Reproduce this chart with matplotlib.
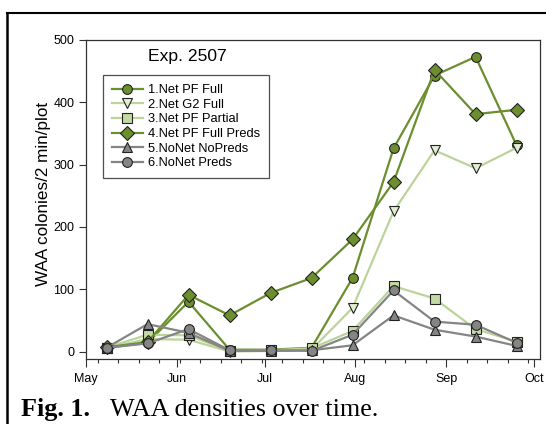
import matplotlib.pyplot as plt
import matplotlib.dates as mdates
from matplotlib.lines import Line2D
import pandas as pd

plt.rcParams['font.family'] = ['Liberation Sans', 'DejaVu Sans']

# sampling dates (two-week intervals)
dates = pd.to_datetime(["2007-05-08", "2007-05-22", "2007-06-05", "2007-06-19",
                        "2007-07-03", "2007-07-17", "2007-07-31", "2007-08-14",
                        "2007-08-28", "2007-09-11", "2007-09-25"])

net_pf_full = [6, 14, 80, 3, 3, 6, 118, 326, 443, 473, 331]
net_g2_full = [5, 20, 19, 0, 1, 3, 70, 225, 323, 294, 327]
net_pf_partial = [6, 27, 26, 1, 2, 5, 33, 105, 85, 36, 16]
net_pf_full_preds = [7, 15, 91, 58, 94, 118, 180, 272, 452, 381, 388]
nonet_nopreds = [6, 44, 30, 1, 1, 2, 10, 58, 35, 24, 9]
nonet_preds = [6, 13, 36, 2, 2, 1, 27, 98, 48, 43, 14]

labels = ["1.Net PF Full", "2.Net G2 Full", "3.Net PF Partial",
          "4.Net PF Full Preds", "5.NoNet NoPreds", "6.NoNet Preds"]

dark_green = '#6b8f2e'
light_green = '#bcd49a'
grey = '#858585'

fig = plt.figure(figsize=(5.46, 4.24), dpi=100)
ax = fig.add_axes([86/546, 1-359/424, 454/546, 319/424])

style = dict(lw=1.6, ms=7, mec='#222222', mew=0.8)
ax.plot(dates, net_pf_full, color=dark_green, marker='o', mfc=dark_green, label=labels[0], **style)
ax.plot(dates, net_g2_full, color=light_green, marker='v', mfc='#e3edd3', label=labels[1], **style)
ax.plot(dates, net_pf_partial, color=light_green, marker='s', mfc='#c4daa5', label=labels[2],
        lw=1.6, ms=6.5, mec='#222222', mew=0.8)
ax.plot(dates, net_pf_full_preds, color=dark_green, marker='D', mfc=dark_green, label=labels[3],
        lw=1.6, ms=6.8, mec='#222222', mew=0.8)
ax.plot(dates, nonet_nopreds, color=grey, marker='^', mfc=grey, label=labels[4], **style)
ax.plot(dates, nonet_preds, color=grey, marker='o', mfc=grey, label=labels[5], **style)

ax.set_xlim(pd.Timestamp("2007-05-01"), pd.Timestamp("2007-10-03"))
ax.set_ylim(-12, 500)
ax.set_yticks([0, 100, 200, 300, 400, 500])

ax.xaxis.set_major_locator(mdates.MonthLocator())
ax.xaxis.set_major_formatter(mdates.DateFormatter('%b'))
ax.xaxis.set_minor_locator(mdates.WeekdayLocator(byweekday=mdates.SA))

ax.tick_params(axis='both', which='major', direction='out', length=5, width=0.8,
               labelsize=9, colors='#333333', labelcolor='black')
ax.tick_params(axis='x', which='major', length=6, pad=4)
ax.tick_params(axis='x', which='minor', direction='out', length=3, width=0.8, colors='#333333')
for sp in ax.spines.values():
    sp.set_linewidth(0.9)
    sp.set_color('#333333')

ax.set_ylabel("WAA colonies/2 min/plot", fontsize=12.3)
ax.yaxis.set_label_coords(-0.077, 0.516)

ax.text(0.224, 0.947, "Exp. 2507", transform=ax.transAxes, ha='center', va='center', fontsize=12.6)

leg = ax.legend(loc='upper left', bbox_to_anchor=(0.037, 0.89), borderaxespad=0,
                fontsize=9.3, frameon=True, fancybox=False, edgecolor='#222222',
                handlelength=2.4, handletextpad=0.4, labelspacing=0.2, borderpad=0.7)
leg.get_frame().set_linewidth(0.9)

# frame lines around the figure panel
fig.add_artist(Line2D([7/546, 1.0], [1-13/424, 1-13/424], color='black', lw=1.5))
fig.add_artist(Line2D([7/546, 7/546], [0, 1-13/424], color='black', lw=1.8))

serif = ['Liberation Serif', 'DejaVu Serif']
fig.text(21/546, 1-416/424, "Fig. 1.", fontsize=18.8, fontweight='bold',
         family=serif, va='baseline')
fig.text(110/546, 1-416/424, "WAA densities over time.", fontsize=18.8,
         family=serif, va='baseline')

plt.savefig("out.png", dpi=100)
